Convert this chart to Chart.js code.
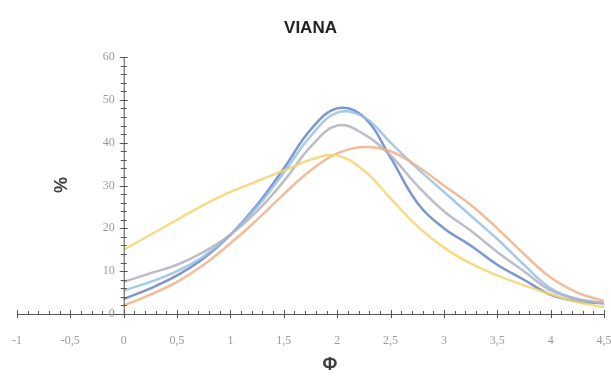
<!DOCTYPE html>
<html>
<head>
<meta charset="utf-8">
<script src="https://cdn.jsdelivr.net/npm/chart.js@4.4.1/dist/chart.umd.min.js"></script>
<style>
  html, body { margin: 0; padding: 0; background: #fff; }
  #wrap { width: 611px; height: 379px; }
</style>
</head>
<body>
<div id="wrap"><canvas id="myChart"></canvas></div>
<script>
// phi classes
const phi = [0, 0.25, 0.5, 0.75, 1, 1.25, 1.5, 1.75, 2, 2.25, 2.5, 2.75, 3, 3.25, 3.5, 3.75, 4, 4.25, 4.5]

// % per sample
const yellowVals = [15, 18.5, 22, 25.5, 28.5, 31, 33.5, 36, 37, 33.5, 27, 20.5, 15.5, 11.8, 9, 6.7, 4.6, 2.8, 1.6]
const orangeVals = [2, 4.5, 7.5, 11.5, 16.5, 22, 28, 33.5, 37.5, 39, 38, 34.5, 30, 25.5, 20, 14, 8.5, 5, 3]
const grayVals   = [7.5, 9.5, 11.5, 14.5, 18.5, 24, 31, 39, 44, 42, 37, 30, 24, 19.5, 14.5, 10, 5.5, 3.5, 2.5]
const lightBlueVals = [5.5, 7.5, 10, 13.5, 18.5, 25, 33, 41.5, 47, 46, 40, 34, 28.5, 23, 17.5, 11.5, 6, 3.5, 2.5]
const blueVals   = [3.5, 6, 9, 13, 18.5, 25.5, 34, 43, 48, 46, 36.5, 26, 20, 16, 11.5, 8, 4.5, 3, 2.5]

const xTicks = [-1, -0.5, 0, 0.5, 1, 1.5, 2, 2.5, 3, 3.5, 4, 4.5]
const yTicks = [0, 10, 20, 30, 40, 50, 60]

function pts(vals) {
  return vals.map((v, i) => ({ x: phi[i], y: v }))
}

function fmt(v) {
  return String(v).replace('.', ',')
}

// axes crossing at 0 with minor ticks, plus y labels and axis titles
const axesPlugin = {
  id: 'axes',
  afterDraw(chart) {
    const ctx = chart.ctx
    const xs = chart.scales.x
    const ys = chart.scales.y
    const x0 = xs.getPixelForValue(0)
    const y0 = ys.getPixelForValue(0)
    ctx.save()
    ctx.strokeStyle = '#555'
    ctx.lineWidth = 1
    ctx.beginPath()
    ctx.moveTo(xs.getPixelForValue(-1), y0 + 0.5)
    ctx.lineTo(xs.getPixelForValue(4.5), y0 + 0.5)
    ctx.moveTo(x0 + 0.5, y0)
    ctx.lineTo(x0 + 0.5, ys.getPixelForValue(60))
    // x ticks every 0.1
    for (let i = -10; i <= 45; i++) {
      const px = Math.round(xs.getPixelForValue(i / 10)) + 0.5
      const major = i % 5 === 0
      ctx.moveTo(px, y0 - (major ? 4 : 3))
      ctx.lineTo(px, y0 + (major ? 4 : 1))
    }
    // y ticks every 2
    for (let v = 0; v <= 60; v += 2) {
      const py = Math.round(ys.getPixelForValue(v)) + 0.5
      const major = v % 10 === 0
      ctx.moveTo(x0 - (major ? 4 : 3), py)
      ctx.lineTo(x0 + (major ? 4 : 3), py)
    }
    ctx.stroke()

    ctx.fillStyle = '#9a9a9a'
    ctx.font = '12px "Liberation Serif"'
    ctx.textAlign = 'right'
    ctx.textBaseline = 'middle'
    yTicks.forEach(v => {
      ctx.fillText(String(v), x0 - 9, ys.getPixelForValue(v))
    })

    ctx.fillStyle = '#404040'
    ctx.font = 'bold 18px "Liberation Sans"'
    ctx.textAlign = 'center'
    ctx.fillText('Φ', 330, 365)
    ctx.translate(62, 185)
    ctx.rotate(-Math.PI / 2)
    ctx.fillText('%', 0, 0)
    ctx.restore()
  }
}

function line(label, vals, color) {
  return {
    label: label,
    data: pts(vals),
    borderColor: color,
    borderWidth: 2.5,
    pointRadius: 0,
    tension: 0.4,
    fill: false
  }
}

const ctx = document.getElementById('myChart')
new Chart(ctx, {
  type: 'line',
  data: {
    datasets: [
      line('Serie 5', yellowVals, 'rgba(245, 213, 110, 0.85)'),
      line('Serie 4', orangeVals, 'rgba(240, 176, 136, 0.85)'),
      line('Serie 3', grayVals, 'rgba(178, 178, 190, 0.85)'),
      line('Serie 2', lightBlueVals, 'rgba(150, 190, 232, 0.85)'),
      line('Serie 1', blueVals, 'rgba(100, 133, 196, 0.85)')
    ]
  },
  options: {
    responsive: true,
    maintainAspectRatio: false,
    animation: false,
    layout: { padding: { left: 17, right: 7, top: 0, bottom: 0 } },
    plugins: {
      legend: { display: false },
      tooltip: { enabled: false },
      title: {
        display: true,
        text: 'VIANA',
        color: '#222',
        font: { family: 'Liberation Sans', size: 17, weight: 'bold' },
        padding: { top: 18, bottom: 18.6 }
      }
    },
    scales: {
      x: {
        type: 'linear',
        min: -1,
        max: 4.5,
        grid: { display: false },
        border: { display: false },
        afterBuildTicks(scale) {
          scale.ticks = xTicks.map(v => ({ value: v }))
        },
        afterFit(scale) {
          scale.height = 65
          scale.paddingLeft = 0
          scale.paddingRight = 0
        },
        ticks: {
          color: '#9a9a9a',
          font: { family: 'Liberation Serif', size: 12 },
          padding: 12,
          maxRotation: 0,
          autoSkip: false,
          callback: v => fmt(v)
        }
      },
      y: {
        display: false,
        min: 0,
        max: 60
      }
    }
  },
  plugins: [axesPlugin]
})
</script>
</body>
</html>
